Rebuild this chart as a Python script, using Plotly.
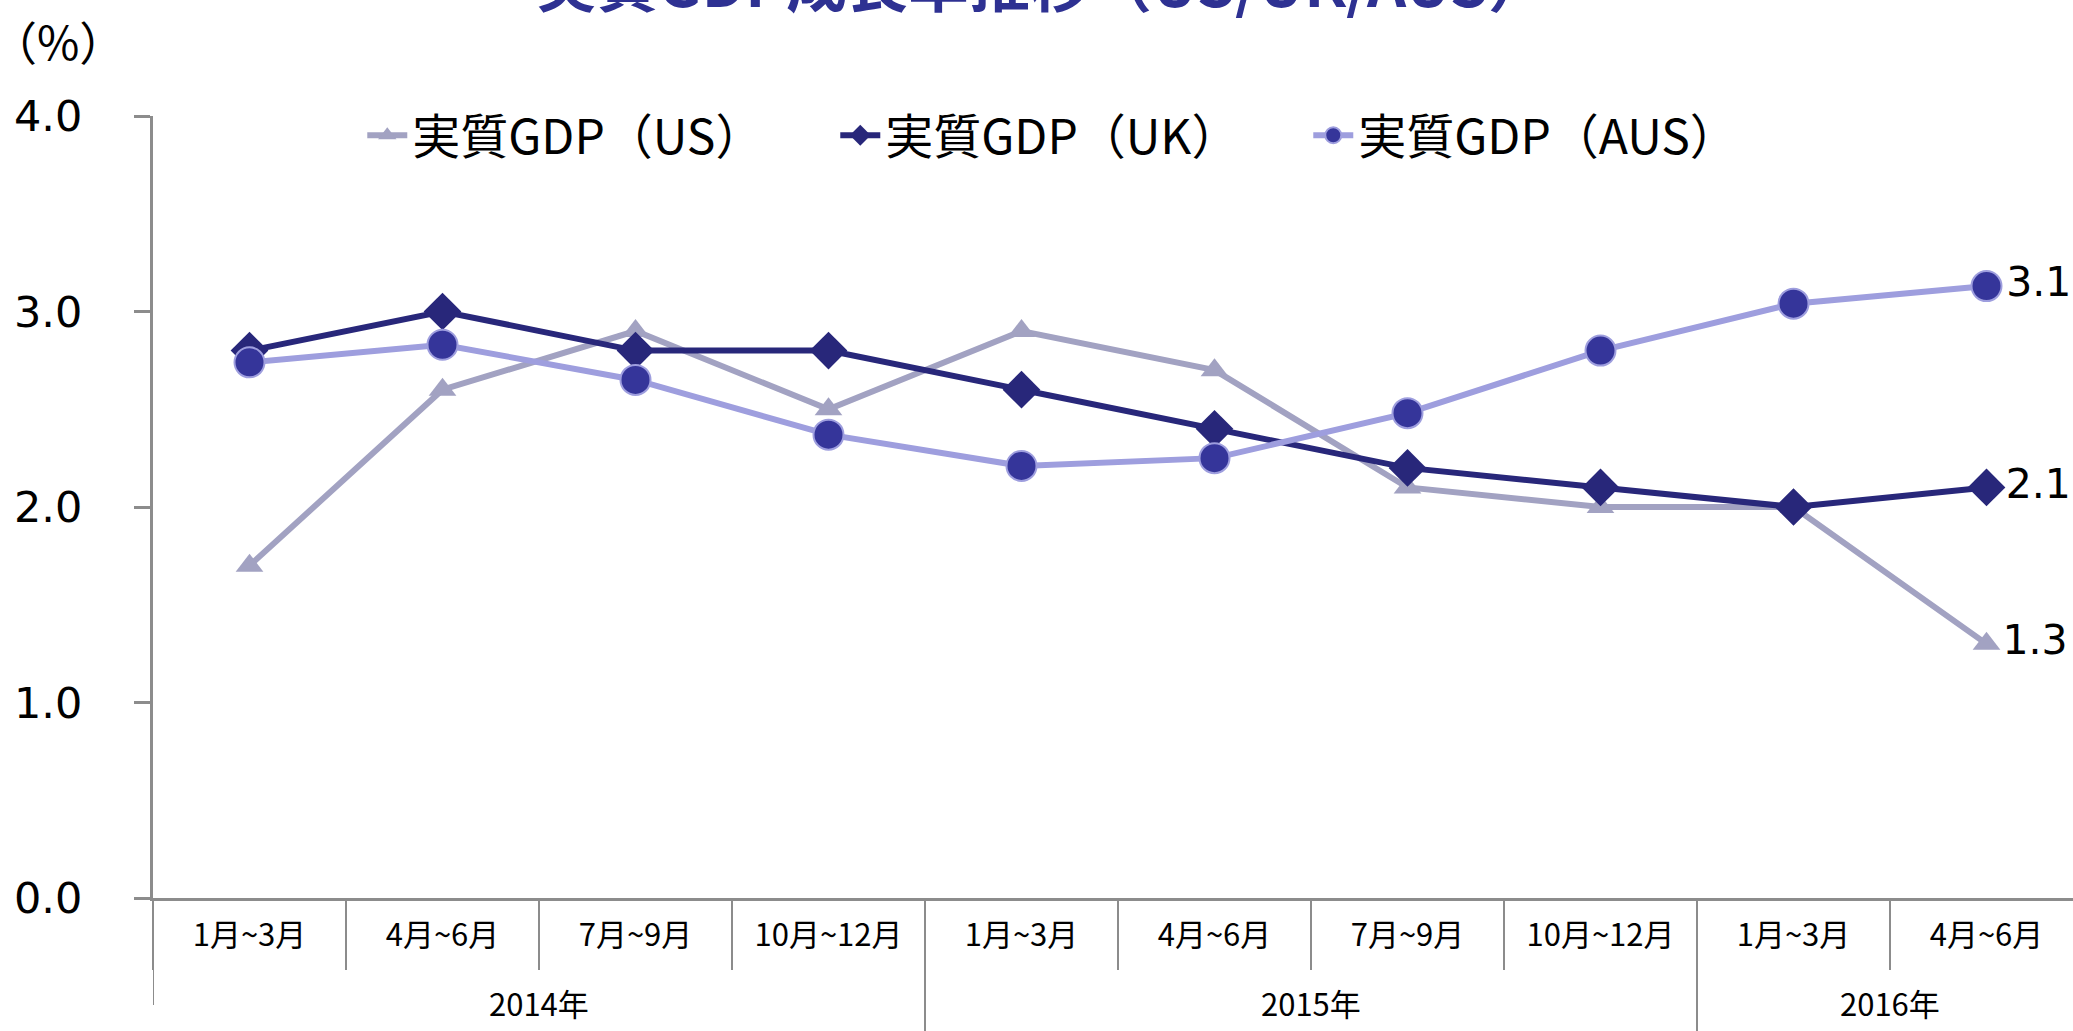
import plotly.graph_objects as go

# Quarterly real GDP growth (%), year-on-year
years = ["2014年"] * 4 + ["2015年"] * 4 + ["2016年"] * 2
quarters = ["1月~3月", "4月~6月", "7月~9月", "10月~12月",
            "1月~3月", "4月~6月", "7月~9月", "10月~12月",
            "1月~3月", "4月~6月"]

gdp_us = [1.7, 2.6, 2.9, 2.5, 2.9, 2.7, 2.1, 2.0, 2.0, 1.3]
gdp_uk = [2.8, 3.0, 2.8, 2.8, 2.6, 2.4, 2.2, 2.1, 2.0, 2.1]
gdp_aus = [2.74, 2.83, 2.65, 2.37, 2.21, 2.25, 2.48, 2.80, 3.04, 3.13]

series_names = ["実質GDP（US）", "実質GDP（UK）", "実質GDP（AUS）"]
title_text = "実質GDP成長率推移（US/UK/AUS）"
unit_text = "（%）"
y_ticks = [0, 1, 2, 3, 4]

W, H = 2073, 1031
M_L, M_R, M_T, M_B = 153, 0, 116, 133
CAT_PX = 193  # width of one quarter slot
plot_w = W - M_L - M_R
plot_h = H - M_T - M_B

CJK = "Noto Sans CJK JP"
NUM = "DejaVu Sans"
AXIS_GREY = "#8C8C8C"


def last_label(vals):
    return [""] * (len(vals) - 1) + [f"{vals[-1]:.1f}"]


def px_below_axis(px):
    """paper y for a point px pixels under the x axis line"""
    return -px / plot_h


xi = list(range(len(quarters)))
fig = go.Figure()

fig.add_trace(go.Scatter(
    x=xi, y=gdp_us, name=series_names[0], mode="lines+markers+text",
    line=dict(color="#A2A2C2", width=6),
    marker=dict(symbol="triangle-up", size=24, color="#A2A2C2"),
    text=last_label(gdp_us), textposition="middle right",
    textfont=dict(family=NUM, size=41, color="#000000"),
    cliponaxis=False,
))
fig.add_trace(go.Scatter(
    x=xi, y=gdp_uk, name=series_names[1], mode="lines+markers+text",
    line=dict(color="#28277A", width=6),
    marker=dict(symbol="diamond", size=29, color="#28277A"),
    text=last_label(gdp_uk), textposition="middle right",
    textfont=dict(family=NUM, size=41, color="#000000"),
    cliponaxis=False,
))
fig.add_trace(go.Scatter(
    x=xi, y=gdp_aus, name=series_names[2], mode="lines+markers+text",
    line=dict(color="#9E9EDE", width=6),
    marker=dict(symbol="circle", size=30, color="#35359A",
                line=dict(color="#9E9EDE", width=2)),
    text=last_label(gdp_aus), textposition="middle right",
    textfont=dict(family=NUM, size=41, color="#000000"),
    cliponaxis=False,
))

x_hi = -0.5 + plot_w / CAT_PX

# year groups: centre for the label, boundaries for the dividers
groups = []
for i, yr in enumerate(years):
    if not groups or groups[-1][0] != yr:
        groups.append([yr, i, i])
    else:
        groups[-1][2] = i

annotations = [
    dict(text=title_text, xref="paper", yref="paper",
         x=(1042 - M_L) / plot_w, y=1 + (M_T + 20) / plot_h,
         xanchor="center", yanchor="middle", showarrow=False,
         font=dict(family=CJK, size=61, color="#2E3192", weight="bold")),
    dict(text=unit_text, xref="paper", yref="paper",
         x=(58 - M_L) / plot_w, y=1 + (M_T - 40) / plot_h,
         xanchor="center", yanchor="middle", showarrow=False,
         font=dict(family=CJK, size=46, color="#000000")),
]
shapes = []
for k, (yr, a, b) in enumerate(groups):
    annotations.append(dict(
        text=yr, x=(a + b) / 2, xref="x", y=px_below_axis(104), yref="paper",
        xanchor="center", yanchor="middle", showarrow=False,
        font=dict(family=CJK, size=31, color="#000000")))
    depth = 107 if k == 0 else 140
    shapes.append(dict(
        type="line", xref="x", yref="paper", x0=a - 0.5, x1=a - 0.5,
        y0=0, y1=px_below_axis(depth),
        line=dict(color=AXIS_GREY, width=2)))

fig.update_layout(
    width=W, height=H,
    margin=dict(l=M_L, r=M_R, t=M_T, b=M_B, pad=0),
    paper_bgcolor="white", plot_bgcolor="white",
    showlegend=True,
    legend=dict(
        orientation="h", x=0.109, xanchor="left", y=0.975, yanchor="middle",
        font=dict(family=CJK, size=48, color="#000000"),
        entrywidth=418, entrywidthmode="pixels",
        itemwidth=40, bgcolor="rgba(0,0,0,0)",
    ),
    xaxis=dict(
        range=[-0.5, x_hi], tickmode="array", tickvals=xi, ticktext=quarters,
        showline=True, linecolor=AXIS_GREY, linewidth=3,
        ticks="", ticklabelstandoff=8,
        minor=dict(tickmode="linear", tick0=-0.5, dtick=1, ticks="outside",
                   ticklen=69, tickcolor=AXIS_GREY, tickwidth=2, showgrid=False),
        tickfont=dict(family=CJK, size=31, color="#000000"),
        showgrid=False, zeroline=False, automargin=False,
    ),
    yaxis=dict(
        range=[0, 4], tickvals=y_ticks, tickformat=".1f",
        showline=True, linecolor=AXIS_GREY, linewidth=3,
        ticks="outside", ticklen=16, tickcolor=AXIS_GREY, tickwidth=3,
        tickfont=dict(family=NUM, size=43, color="#000000"),
        ticklabelstandoff=43,
        showgrid=False, zeroline=False, automargin=False,
    ),
    annotations=annotations,
    shapes=shapes,
)

fig.write_html("out.html")
